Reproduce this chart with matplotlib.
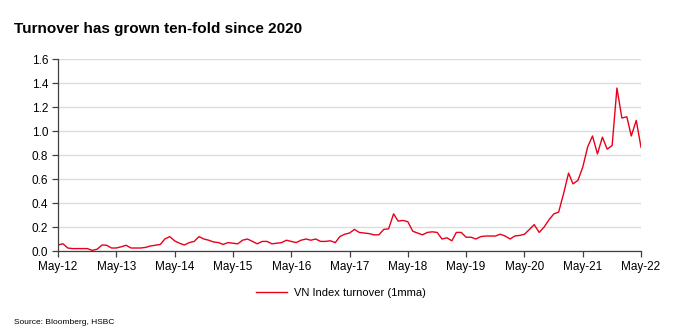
import numpy as np
import pandas as pd
import matplotlib
matplotlib.use("Agg")
import matplotlib.pyplot as plt
import matplotlib.dates as mdates

# VN Index turnover (1mma), monthly May-12 .. May-22
turnover = [
    0.05, 0.06, 0.025, 0.02, 0.02, 0.02, 0.02, 0.005, 0.015, 0.05, 0.048, 0.025,
    0.025, 0.035, 0.048, 0.025, 0.025, 0.025, 0.03, 0.042, 0.048, 0.055, 0.10, 0.12,
    0.085, 0.065, 0.05, 0.07, 0.08, 0.12, 0.10, 0.09, 0.075, 0.07, 0.055, 0.07,
    0.065, 0.06, 0.09, 0.10, 0.08, 0.06, 0.08, 0.08, 0.06, 0.065, 0.07, 0.09,
    0.08, 0.07, 0.09, 0.10, 0.09, 0.10, 0.08, 0.08, 0.085, 0.07, 0.12, 0.14,
    0.15, 0.18, 0.155, 0.15, 0.145, 0.135, 0.135, 0.18, 0.185, 0.31, 0.25, 0.255,
    0.245, 0.165, 0.15, 0.135, 0.155, 0.16, 0.155, 0.10, 0.11, 0.085, 0.155, 0.155,
    0.115, 0.115, 0.10, 0.12, 0.125, 0.125, 0.125, 0.14, 0.125, 0.10, 0.125, 0.13,
    0.14, 0.18, 0.22, 0.155, 0.20, 0.26, 0.31, 0.325, 0.48, 0.65, 0.56, 0.59,
    0.70, 0.87, 0.96, 0.81, 0.95, 0.85, 0.88, 1.36, 1.11, 1.12, 0.96, 1.09,
    0.865,
]
dates = pd.date_range("2012-05-01", periods=len(turnover), freq="MS")
tick_dates = pd.date_range("2012-05-01", "2022-05-01", freq="12MS")
y_ticks = [0.0, 0.2, 0.4, 0.6, 0.8, 1.0, 1.2, 1.4, 1.6]

title = "Turnover has grown ten-fold since 2020"
series_label = "VN Index turnover (1mma)"
source = "Source: Bloomberg, HSBC"

plt.rcParams["font.family"] = ["Liberation Sans", "DejaVu Sans"]

fig = plt.figure(figsize=(6.73, 3.34), dpi=100)
ax = fig.add_axes([0.0862, 0.2485, 0.8663, 0.574])

ax.plot(dates, turnover, color="#E8001C", lw=1.0, label=series_label)

ax.set_xlim(dates[0], dates[-1])
ax.set_ylim(0, 1.6)
ax.set_yticks(y_ticks)
ax.set_yticklabels(["%.1f" % v for v in y_ticks])
ax.set_xticks(tick_dates)
ax.xaxis.set_major_formatter(mdates.DateFormatter("%b-%y"))

ax.grid(axis="y", color="#dcdcdc", lw=1.0)
ax.set_axisbelow(True)
for s in ["top", "right"]:
    ax.spines[s].set_visible(False)
for s in ["left", "bottom"]:
    ax.spines[s].set_color("#404040")
    ax.spines[s].set_linewidth(0.9)
ax.tick_params(axis="both", colors="#404040", labelcolor="black",
               labelsize=8.5, length=4, width=0.9, pad=3)

fig.text(0.021, 0.912, title, fontsize=11, fontweight="bold", va="center")
fig.legend(loc="center", bbox_to_anchor=(0.507, 0.123), frameon=False,
           fontsize=8, handlelength=2.8, handletextpad=0.6)
fig.text(0.021, 0.035, source, fontsize=6, va="center")

fig.savefig("out.png", dpi=100)
